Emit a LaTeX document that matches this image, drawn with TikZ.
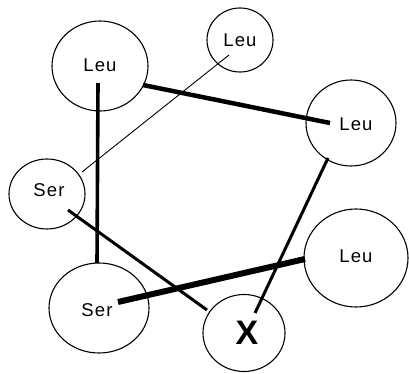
\documentclass[tikz,border=0pt]{standalone}
\usepackage{fontspec}
\setmainfont{Liberation Sans}
\usetikzlibrary{shapes.geometric}
\begin{document}
\begin{tikzpicture}[x=1pt,y=-1pt,
  res/.style={draw,line width=1.1pt,ellipse,inner sep=0pt},
  lbl/.style={font=\fontsize{18.5}{18.5}\selectfont\addfontfeature{LetterSpace=6}},
  bondthin/.style={line width=0.9pt},
  bondmid/.style={line width=3pt},
  bondthick/.style={line width=4.5pt},
  bondheavy/.style={line width=6pt}]
\useasboundingbox (0,0) rectangle (409,374);
% residues
\node[res,minimum width=96pt,minimum height=90pt] (leuA) at (100,66) {};
\node[res,minimum width=66pt,minimum height=64pt] (leuB) at (240,40) {};
\node[res,minimum width=90pt,minimum height=86pt] (leuC) at (351,123) {};
\node[res,minimum width=76pt,minimum height=70pt] (serA) at (47,194) {};
\node[res,minimum width=100pt,minimum height=90pt] (serB) at (99,308) {};
\node[res,minimum width=82pt,minimum height=77pt] (xres) at (244,333) {};
\node[res,minimum width=104pt,minimum height=98pt] (leuD) at (356,258) {};
% labels
\node[lbl] (tA) at (100,65) {Leu};
\node[lbl] (tB) at (240,40) {Leu};
\node[lbl] (tC) at (356,124) {Leu};
\node[lbl] (tSA) at (49,190) {Ser};
\node[lbl] (tSB) at (97,310) {Ser};
\node[lbl] (tD) at (356,256) {Leu};
\node[font=\fontsize{34}{34}\selectfont\bfseries] (tX) at (247,333) {X};
% bond end points
\coordinate (a1) at (98,83);   \coordinate (a2) at (97,263);
\coordinate (b1) at (143,85);  \coordinate (b2) at (330,123);
\coordinate (c1) at (229,55);  \coordinate (c2) at (82,172);
\coordinate (d1) at (328,158); \coordinate (d2) at (255,313);
\coordinate (e1) at (68,210);  \coordinate (e2) at (207,310);
\coordinate (f1) at (118,302); \coordinate (f2) at (305,259);
% bonds
\draw[bondthick,line width=3.6pt] (a1) -- (a2);
\draw[bondthick] (b1) -- (b2);
\draw[bondthin] (c1) -- (c2);
\draw[bondmid] (d1) -- (d2);
\draw[bondmid] (e1) -- (e2);
\draw[bondheavy] (f1) -- (f2);
\end{tikzpicture}
\end{document}
